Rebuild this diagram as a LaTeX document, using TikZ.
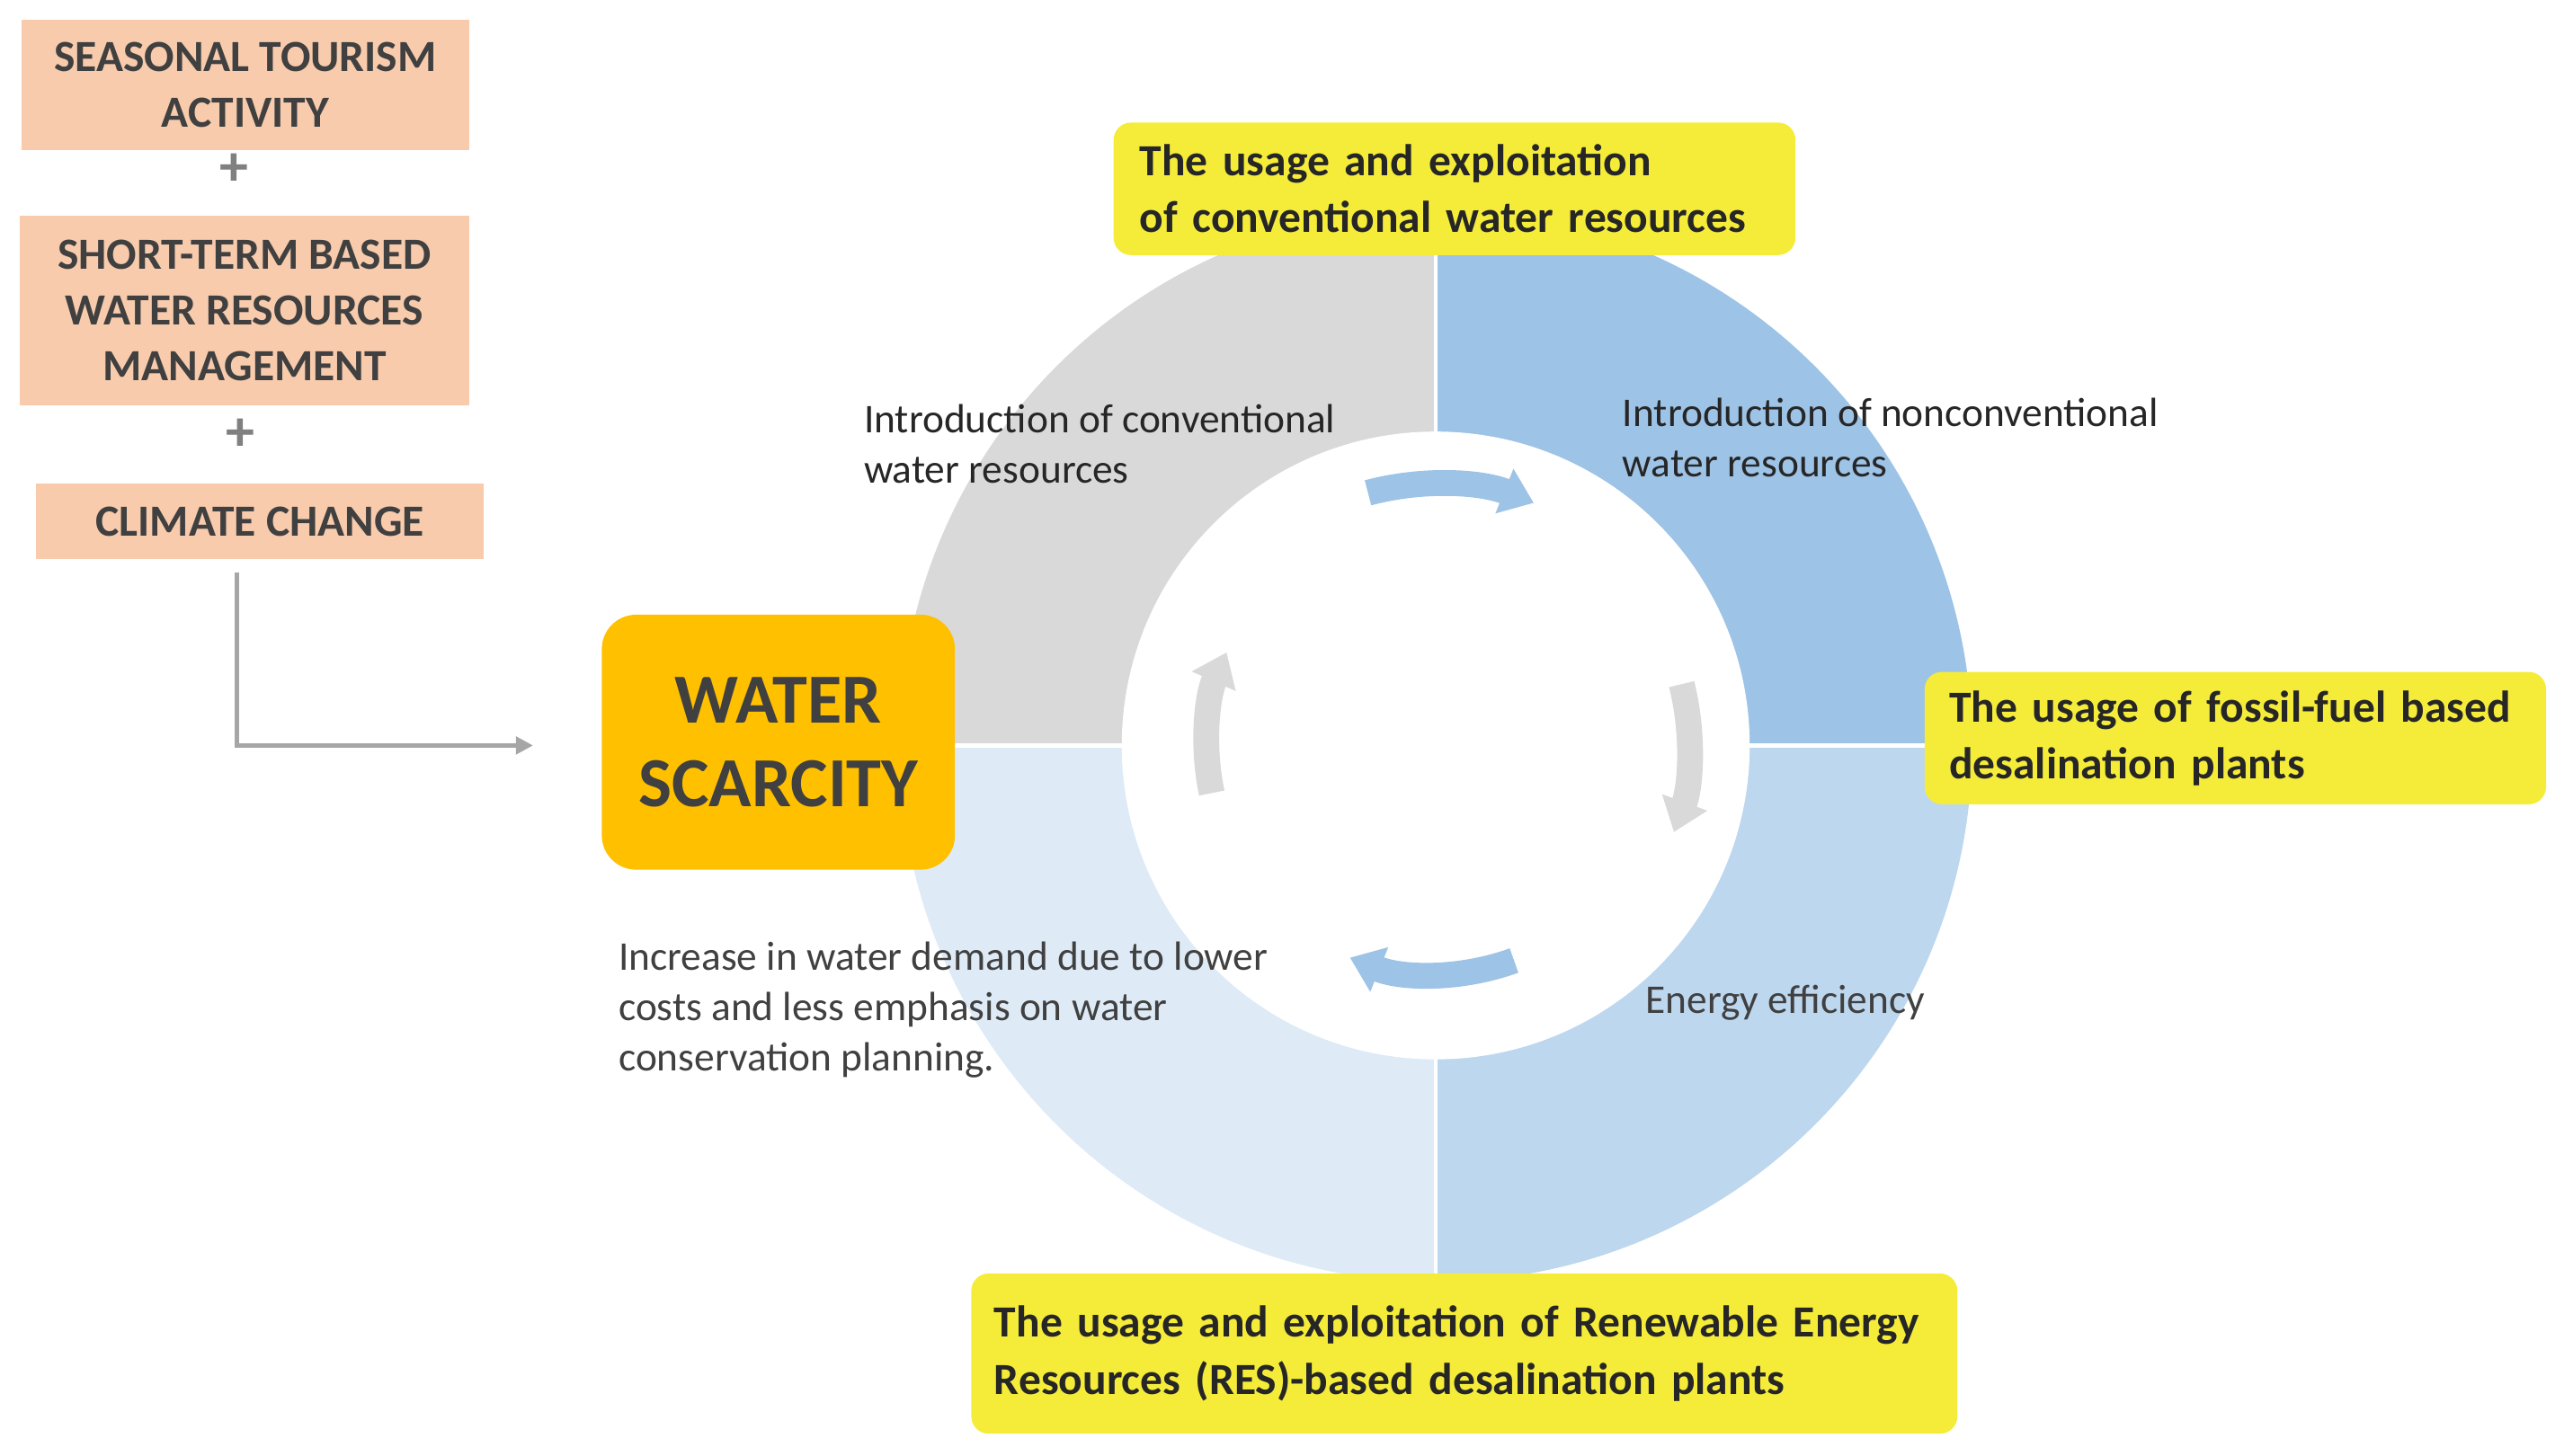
\documentclass[tikz,border=0pt]{standalone}
\usepackage{fontspec}
\setmainfont{Carlito}
\usetikzlibrary{arrows.meta}
\definecolor{salmon}{HTML}{F8CBAD}
\definecolor{ylw}{HTML}{F5EC3A}
\definecolor{orng}{HTML}{FFC000}
\definecolor{qa}{HTML}{D9D9D9}
\definecolor{qb}{HTML}{9DC3E6}
\definecolor{qc}{HTML}{BDD7EE}
\definecolor{qd}{HTML}{DEEBF7}
\definecolor{txt}{HTML}{404040}
\tikzset{
 cause/.style={fill=salmon,draw=none,text=txt,font=\bfseries\fontsize{15.5}{19.5}\selectfont,align=center,inner sep=0pt},
 ybox/.style={fill=ylw,rounded corners=6pt,draw=none,text=black!85,font=\bfseries\fontsize{15.5}{19.8}\selectfont,align=left,inner sep=0pt},
 lbl/.style={font=\fontsize{14.2}{17.5}\selectfont,align=left,anchor=north west,inner sep=0pt,text=black!85},
 cyc/.style={line width=9pt,-{Triangle[width=16pt,length=11pt]}},
}
\begin{document}
\begin{tikzpicture}[x=0.02cm,y=-0.02cm]
\useasboundingbox (0,0) rectangle (1568,890.6);
\coordinate (c) at (878,456);
\def\R{328}\def\r{192}
\fill[qa] (c) -- ++(-180:\R) arc[start angle=-180,end angle=-90,radius=\R] -- cycle;
\fill[qb] (c) -- ++(-90:\R) arc[start angle=-90,end angle=0,radius=\R] -- cycle;
\fill[qc] (c) -- ++(0:\R) arc[start angle=0,end angle=90,radius=\R] -- cycle;
\fill[qd] (c) -- ++(90:\R) arc[start angle=90,end angle=180,radius=\R] -- cycle;
\draw[white,line width=1.5pt] (c) ++(-\R,0) -- ++(2*\R,0);
\draw[white,line width=1.5pt] (c) ++(0,-\R) -- ++(0,2*\R);
\fill[white] (c) circle[radius=\r];
% cycle arrows
\draw[cyc,qb] (c) ++(-105:160) arc[start angle=-105,end angle=-68,radius=160];
\draw[cyc,qa] (c) ++(-14:155) arc[start angle=-14,end angle=20,radius=155];
\draw[cyc,qb] (c) ++(70:140) arc[start angle=70,end angle=112,radius=140];
\draw[cyc,qa] (c) ++(168:140) arc[start angle=168,end angle=204,radius=140];
% cause boxes
\node[cause,minimum width=274*0.02cm,minimum height=80*0.02cm] (b1) at (150,52) {SEASONAL TOURISM\\ACTIVITY};
\node[text=gray,font=\bfseries\fontsize{20}{20}\selectfont] (p1) at (143,104) {+};
\node[cause,minimum width=275*0.02cm,minimum height=116*0.02cm] (b2) at (149.5,190) {SHORT-TERM BASED\\WATER RESOURCES\\MANAGEMENT};
\node[text=gray,font=\bfseries\fontsize{20}{20}\selectfont] (p2) at (147,266) {+};
\node[cause,minimum width=274*0.02cm,minimum height=46*0.02cm] (b3) at (159,319) {CLIMATE CHANGE};
\coordinate (e) at (326,456);
\draw[gray!70,line width=1.5pt,-{Triangle[width=6pt,length=6pt]}] (145,350) |- (e);
% water scarcity
\node[fill=orng,rounded corners=12pt,minimum width=216*0.02cm,minimum height=156*0.02cm,text=txt,font=\bfseries\fontsize{24.5}{29}\selectfont,align=center] (ws) at (476,454) {WATER\\SCARCITY};
% yellow boxes
\node[ybox,minimum width=417*0.02cm,minimum height=81*0.02cm,text width=385*0.02cm] (y1) at (889.5,115.5) {The usage and exploitation\\of conventional water resources};
\node[ybox,minimum width=380*0.02cm,minimum height=81*0.02cm,text width=350*0.02cm] (y2) at (1367,451.5) {The usage of fossil-fuel based\\desalination plants};
\node[ybox,minimum width=603*0.02cm,minimum height=98*0.02cm,text width=575*0.02cm] (y3) at (895.5,828) {The usage and exploitation of Renewable Energy\\Resources (RES)-based desalination plants};
% labels
\node[lbl] (l1) at (528,247) {Introduction of conventional\\water resources};
\node[lbl] (l2) at (992,243) {Introduction of nonconventional\\water resources};
\node[lbl,text=txt] (l3) at (1006,602) {Energy efficiency};
\node[lbl,text=txt] (l4) at (378,576) {Increase in water demand due to lower\\costs and less emphasis on water\\conservation planning.};
\end{tikzpicture}
\end{document}
